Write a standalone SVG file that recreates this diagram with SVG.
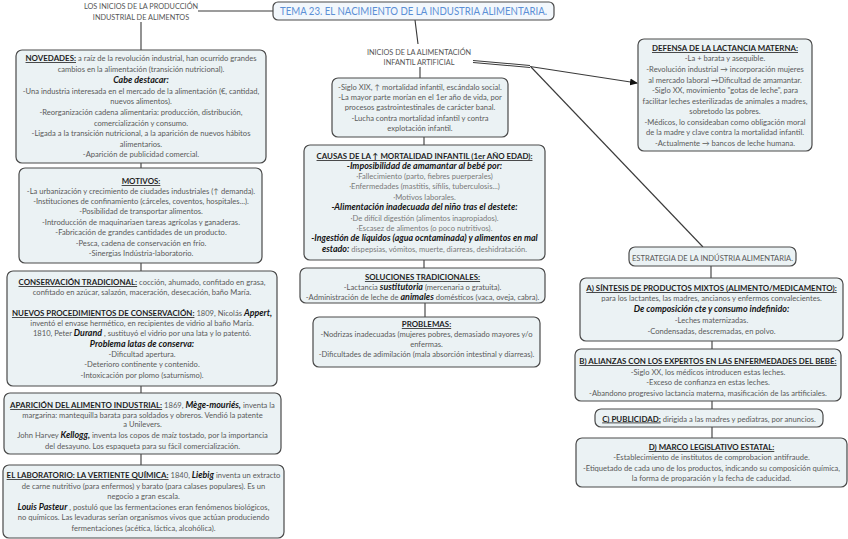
<svg xmlns="http://www.w3.org/2000/svg" width="848" height="539" viewBox="0 0 848 539">
<defs>
<style>
.box{fill:#ebf2f4;stroke:#4a4a4a;stroke-width:1.2}
.t{font-family:Lato,"Open Sans","Liberation Sans",sans-serif;font-size:7.6px;fill:#5a5a5a;text-anchor:middle}
.lt{fill:#7a7a7a}
.h{font-weight:bold;fill:#1e1e1e;text-decoration:underline;font-size:7.9px}
.b{font-weight:bold;font-style:italic;fill:#141414;font-size:8.9px}
.hd{font-family:Lato,"Open Sans","Liberation Sans",sans-serif;font-size:7.3px;fill:#555;text-anchor:middle}
.c{stroke:#3a3a3a;stroke-width:1.1;fill:none}
</style>
<marker id="arr" markerWidth="8" markerHeight="8" refX="7" refY="4" orient="auto" markerUnits="userSpaceOnUse">
<path d="M0,0.5 L8,4 L0,7.5 Z" fill="#111"/>
</marker>
</defs>
<rect width="848" height="539" fill="#fff"/>

<g id="connectors">
<line class="c" x1="198" y1="11" x2="273" y2="11"/>
<line class="c" x1="141" y1="22" x2="141" y2="50"/>
<line class="c" x1="141" y1="163" x2="141" y2="168"/>
<line class="c" x1="141" y1="263" x2="141" y2="271"/>
<line class="c" x1="141" y1="386" x2="141" y2="393"/>
<line class="c" x1="141" y1="454" x2="141" y2="465"/>
<line class="c" x1="415" y1="20" x2="418" y2="44"/>
<line class="c" x1="420" y1="67" x2="420" y2="78"/>
<line class="c" x1="424" y1="137" x2="424" y2="145"/>
<line class="c" x1="424" y1="260" x2="424" y2="268"/>
<line class="c" x1="425" y1="303" x2="425" y2="317"/>
<line class="c" x1="473" y1="60.5" x2="530" y2="65.5"/>
<line class="c" x1="473" y1="62.5" x2="530" y2="67.5"/>
<line class="c" x1="530" y1="66.5" x2="637" y2="83" marker-end="url(#arr)"/>
<line class="c" x1="531" y1="67" x2="703" y2="247"/>
<line class="c" x1="711" y1="266" x2="711" y2="278"/>
<line class="c" x1="712" y1="341" x2="712" y2="349"/>
<line class="c" x1="712" y1="401" x2="712" y2="409"/>
<line class="c" x1="712" y1="427" x2="712" y2="438"/>
</g>

<g id="title">
<rect x="273" y="2" width="281" height="18" rx="5" fill="#f2f7fc" stroke="#4a4a4a" stroke-width="1.2"/>
<text x="413.5" y="15" font-family="Lato,'Open Sans','Liberation Sans',sans-serif" font-size="10.8px" fill="#5b8fd6" text-anchor="middle" textLength="267" lengthAdjust="spacingAndGlyphs">TEMA 23. EL NACIMIENTO DE LA INDUSTRIA ALIMENTARIA.</text>
</g>

<g id="header-left">
<text class="hd" x="141" y="9">LOS INICIOS DE LA PRODUCCIÓN</text>
<text class="hd" x="141" y="20">INDUSTRIAL DE ALIMENTOS</text>
</g>

<g id="novedades">
<rect class="box" x="16" y="50" width="250" height="113" rx="6"/>
<text class="t" x="141" y="61"><tspan class="h">NOVEDADES:</tspan> a raíz de la revolución industrial, han ocurrido grandes</text>
<text class="t" x="141" y="72">cambios en la alimentación (transición nutricional).</text>
<text class="t b" x="141" y="83">Cabe destacar:</text>
<text class="t" x="141" y="94">-Una industria interesada en el mercado de la alimentación (€, cantidad,</text>
<text class="t" x="141" y="104">nuevos alimentos).</text>
<text class="t" x="141" y="115">-Reorganización cadena alimentaria: producción, distribución,</text>
<text class="t" x="141" y="126">comercialización y consumo.</text>
<text class="t" x="141" y="136">-Ligada a la transición nutricional, a la aparición de nuevos hábitos</text>
<text class="t" x="141" y="147">alimentarios.</text>
<text class="t" x="141" y="157">-Aparición de publicidad comercial.</text>
</g>

<g id="motivos">
<rect class="box" x="19" y="168" width="243" height="95" rx="6"/>
<text class="t" x="141" y="184"><tspan class="h">MOTIVOS:</tspan></text>
<text class="t" x="141" y="194">-La urbanización y crecimiento de ciudades industriales (↑ demanda).</text>
<text class="t" x="141" y="204">-Instituciones de confinamiento (cárceles, coventos, hospitales...).</text>
<text class="t" x="141" y="214">-Posibilidad de transportar alimentos.</text>
<text class="t" x="141" y="225">-Introducción de maquinariaen tareas agrícolas y ganaderas.</text>
<text class="t" x="141" y="235">-Fabricación de grandes cantidades de  un producto.</text>
<text class="t" x="141" y="246">-Pesca, cadena de conservación en frío.</text>
<text class="t" x="141" y="256">-Sinergias Indústria-laboratorio.</text>
</g>

<g id="conservacion">
<rect class="box" x="7" y="271" width="270" height="115" rx="6"/>
<text class="t" x="142" y="285"><tspan class="h">CONSERVACIÓN TRADICIONAL:</tspan> cocción, ahumado, confitado en grasa,</text>
<text class="t" x="142" y="295">confitado en azúcar, salazón, maceración, desecación, baño María.</text>
<text class="t" x="142" y="316"><tspan class="h">NUEVOS PROCEDIMIENTOS DE CONSERVACIÓN:</tspan> 1809, Nicolás <tspan class="b">Appert,</tspan></text>
<text class="t" x="142" y="326">inventó el envase hermético, en recipientes de vidrio al baño María.</text>
<text class="t" x="142" y="336">1810, Peter <tspan class="b">Durand</tspan> , sustituyó el vidrio por una lata y lo patentó.</text>
<text class="t b" x="142" y="347">Problema latas de conserva:</text>
<text class="t" x="142" y="357">-Dificultad apertura.</text>
<text class="t" x="142" y="367">-Deterioro continente y contenido.</text>
<text class="t" x="142" y="378">-Intoxicación por plomo (saturnismo).</text>
</g>

<g id="aparicion">
<rect class="box" x="4" y="393" width="277" height="61" rx="6"/>
<text class="t" x="142.5" y="408"><tspan class="h">APARICIÓN DEL ALIMENTO INDUSTRIAL:</tspan> 1869, <tspan class="b">Mège-mouriés,</tspan>  inventa la</text>
<text class="t" x="142.5" y="418">margarina: mantequilla barata para soldados y obreros. Vendió la patente</text>
<text class="t" x="142.5" y="427">a Unilevers.</text>
<text class="t" x="142.5" y="438">John Harvey <tspan class="b">Kellogg,</tspan>  inventa los copos de maíz tostado, por la importancia</text>
<text class="t" x="142.5" y="449">del desayuno. Los espaqueta para su fácil comercialización.</text>
</g>

<g id="laboratorio">
<rect class="box" x="3" y="465" width="281" height="73" rx="6"/>
<text class="t" x="143.5" y="478"><tspan class="h">EL LABORATORIO: LA VERTIENTE QUÍMICA:</tspan> 1840, <tspan class="b">Liebig</tspan>  inventa un extracto</text>
<text class="t" x="143.5" y="489">de carne nutritivo (para enfermos) y barato (para calases populares). Es un</text>
<text class="t" x="143.5" y="499">negocio a gran escala.</text>
<text class="t" x="143.5" y="510"><tspan class="b">Louis Pasteur</tspan> , postuló que las fermentaciones eran fenómenos biológicos,</text>
<text class="t" x="143.5" y="520">no químicos. Las levaduras serían organismos vivos que actúan produciendo</text>
<text class="t" x="143.5" y="531">fermentaciones (acética, láctica, alcohólica).</text>
</g>

<g id="inicios-infantil">
<text class="hd" x="419" y="55">INICIOS DE LA ALIMENTACIÓN</text>
<text class="hd" x="419" y="65">INFANTIL ARTIFICIAL</text>
</g>

<g id="siglo-xix">
<rect class="box" x="332" y="78" width="176" height="59" rx="6"/>
<text class="t" x="420" y="90">-Siglo XIX, ↑ mortalidad infantil, escándalo social.</text>
<text class="t" x="420" y="100">-La mayor parte morían en el 1er año de vida, por</text>
<text class="t" x="420" y="110">procesos gastrointestinales de carácter banal.</text>
<text class="t" x="420" y="121">-Lucha contra mortalidad infantil y contra</text>
<text class="t" x="420" y="131">explotación infantil.</text>
</g>

<g id="causas">
<rect class="box" x="304" y="145" width="241" height="115" rx="6"/>
<text class="t" x="424.5" y="159"><tspan class="h">CAUSAS DE LA ↑ MORTALIDAD INFANTIL (1er AÑO EDAD):</tspan></text>
<text class="t b" x="424.5" y="169">-Imposibilidad de amamantar al bebé por:</text>
<text class="t lt" x="424.5" y="179">·Fallecimiento (parto, fiebres puerperales)</text>
<text class="t lt" x="424.5" y="189">·Enfermedades (mastitis, sífilis, tuberculosis...)</text>
<text class="t lt" x="424.5" y="200">·Motivos laborales.</text>
<text class="t b" x="424.5" y="210">-Alimentación inadecuada del niño tras el destete:</text>
<text class="t lt" x="424.5" y="221">·De difícil digestión (alimentos inapropiados).</text>
<text class="t lt" x="424.5" y="231">·Escasez de alimentos (o poco nutritivos).</text>
<text class="t b" x="424.5" y="241">-Ingestión de líquidos (agua ocntaminada) y alimentos en mal</text>
<text class="t lt" x="424.5" y="252"><tspan class="b">estado:</tspan>  dispepsias, vómitos, muerte, diarreas, deshidratación.</text>
</g>

<g id="soluciones">
<rect class="box" x="300" y="268" width="245" height="35" rx="6"/>
<text class="t" x="422.5" y="280"><tspan class="h">SOLUCIONES TRADICIONALES:</tspan></text>
<text class="t" x="422.5" y="290">-Lactancia <tspan class="b">sustitutoria</tspan>  (mercenaria o gratuita).</text>
<text class="t" x="422.5" y="300">-Administración de leche de <tspan class="b">animales</tspan>  domésticos (vaca, oveja, cabra).</text>
</g>

<g id="problemas">
<rect class="box" x="313" y="317" width="227" height="50" rx="6"/>
<text class="t" x="426.5" y="327"><tspan class="h">PROBLEMAS:</tspan></text>
<text class="t" x="426.5" y="337">-Nodrizas inadecuadas (mujeres pobres, demasiado mayores y/o</text>
<text class="t" x="426.5" y="347">enfermas.</text>
<text class="t" x="426.5" y="357">-Dificultades de adimilación (mala absorción intestinal y diarreas).</text>
</g>

<g id="defensa">
<rect class="box" x="638" y="39" width="174" height="112" rx="6"/>
<text class="t" x="725" y="51"><tspan class="h">DEFENSA DE LA LACTANCIA MATERNA:</tspan></text>
<text class="t" x="725" y="61">-La + barata y asequible.</text>
<text class="t" x="725" y="72">-Revolución industrial → incorporación mujeres</text>
<text class="t" x="725" y="83">al mercado laboral →Dificultad de amamantar.</text>
<text class="t" x="725" y="93">-Siglo XX, movimiento "gotas de leche", para</text>
<text class="t" x="725" y="104">facilitar leches esterilizadas de animales a madres,</text>
<text class="t" x="725" y="114">sobretodo las pobres.</text>
<text class="t" x="725" y="125">-Médicos, lo consideaban como obligación moral</text>
<text class="t" x="725" y="135">de la madre y clave contra la mortalidad infantil.</text>
<text class="t" x="725" y="146">-Actualmente → bancos de leche humana.</text>
</g>

<g id="estrategia">
<rect class="box" x="629" y="247" width="167" height="19" rx="6"/>
<text class="t" x="712.5" y="260.5">ESTRATEGIA DE LA INDÚSTRIA ALIMENTARIA.</text>
</g>

<g id="a-sintesis">
<rect class="box" x="580" y="278" width="263" height="63" rx="6"/>
<text class="t" x="711.5" y="291"><tspan class="h">A) SÍNTESIS DE PRODUCTOS MIXTOS (ALIMENTO/MEDICAMENTO):</tspan></text>
<text class="t" x="711.5" y="301">para los lactantes, las madres, ancianos y enfermos convalecientes.</text>
<text class="t b" x="711.5" y="312">De composición cte y consumo indefinido:</text>
<text class="t" x="711.5" y="323">-Leches maternizadas.</text>
<text class="t" x="711.5" y="334">-Condensadas, descremadas, en polvo.</text>
</g>

<g id="b-alianzas">
<rect class="box" x="575" y="349" width="266" height="52" rx="6"/>
<text class="t" x="708" y="364"><tspan class="h">B) ALIANZAS CON LOS EXPERTOS EN LAS ENFERMEDADES DEL BEBÉ:</tspan></text>
<text class="t" x="708" y="375">-Siglo XX, los médicos introducen estas leches.</text>
<text class="t" x="708" y="385">-Exceso de confianza en estas leches.</text>
<text class="t" x="708" y="396">-Abandono progresivo lactancia materna, masificación de las artificiales.</text>
</g>

<g id="c-publicidad">
<rect class="box" x="595" y="409" width="228" height="18" rx="6"/>
<text class="t" x="709" y="421.5"><tspan class="h">C) PUBLICIDAD:</tspan> dirigida a las madres y pediatras, por anuncios.</text>
</g>

<g id="d-marco">
<rect class="box" x="576" y="438" width="271" height="49" rx="6"/>
<text class="t" x="711.5" y="450"><tspan class="h">D) MARCO LEGISLATIVO ESTATAL:</tspan></text>
<text class="t" x="711.5" y="460">-Establecimiento de institutos de comprobacion antifraude.</text>
<text class="t" x="711.5" y="471">-Etiquetado de cada uno de los productos, indicando su composición química,</text>
<text class="t" x="711.5" y="481">la forma de proparación y la fecha de caducidad.</text>
</g>
</svg>
